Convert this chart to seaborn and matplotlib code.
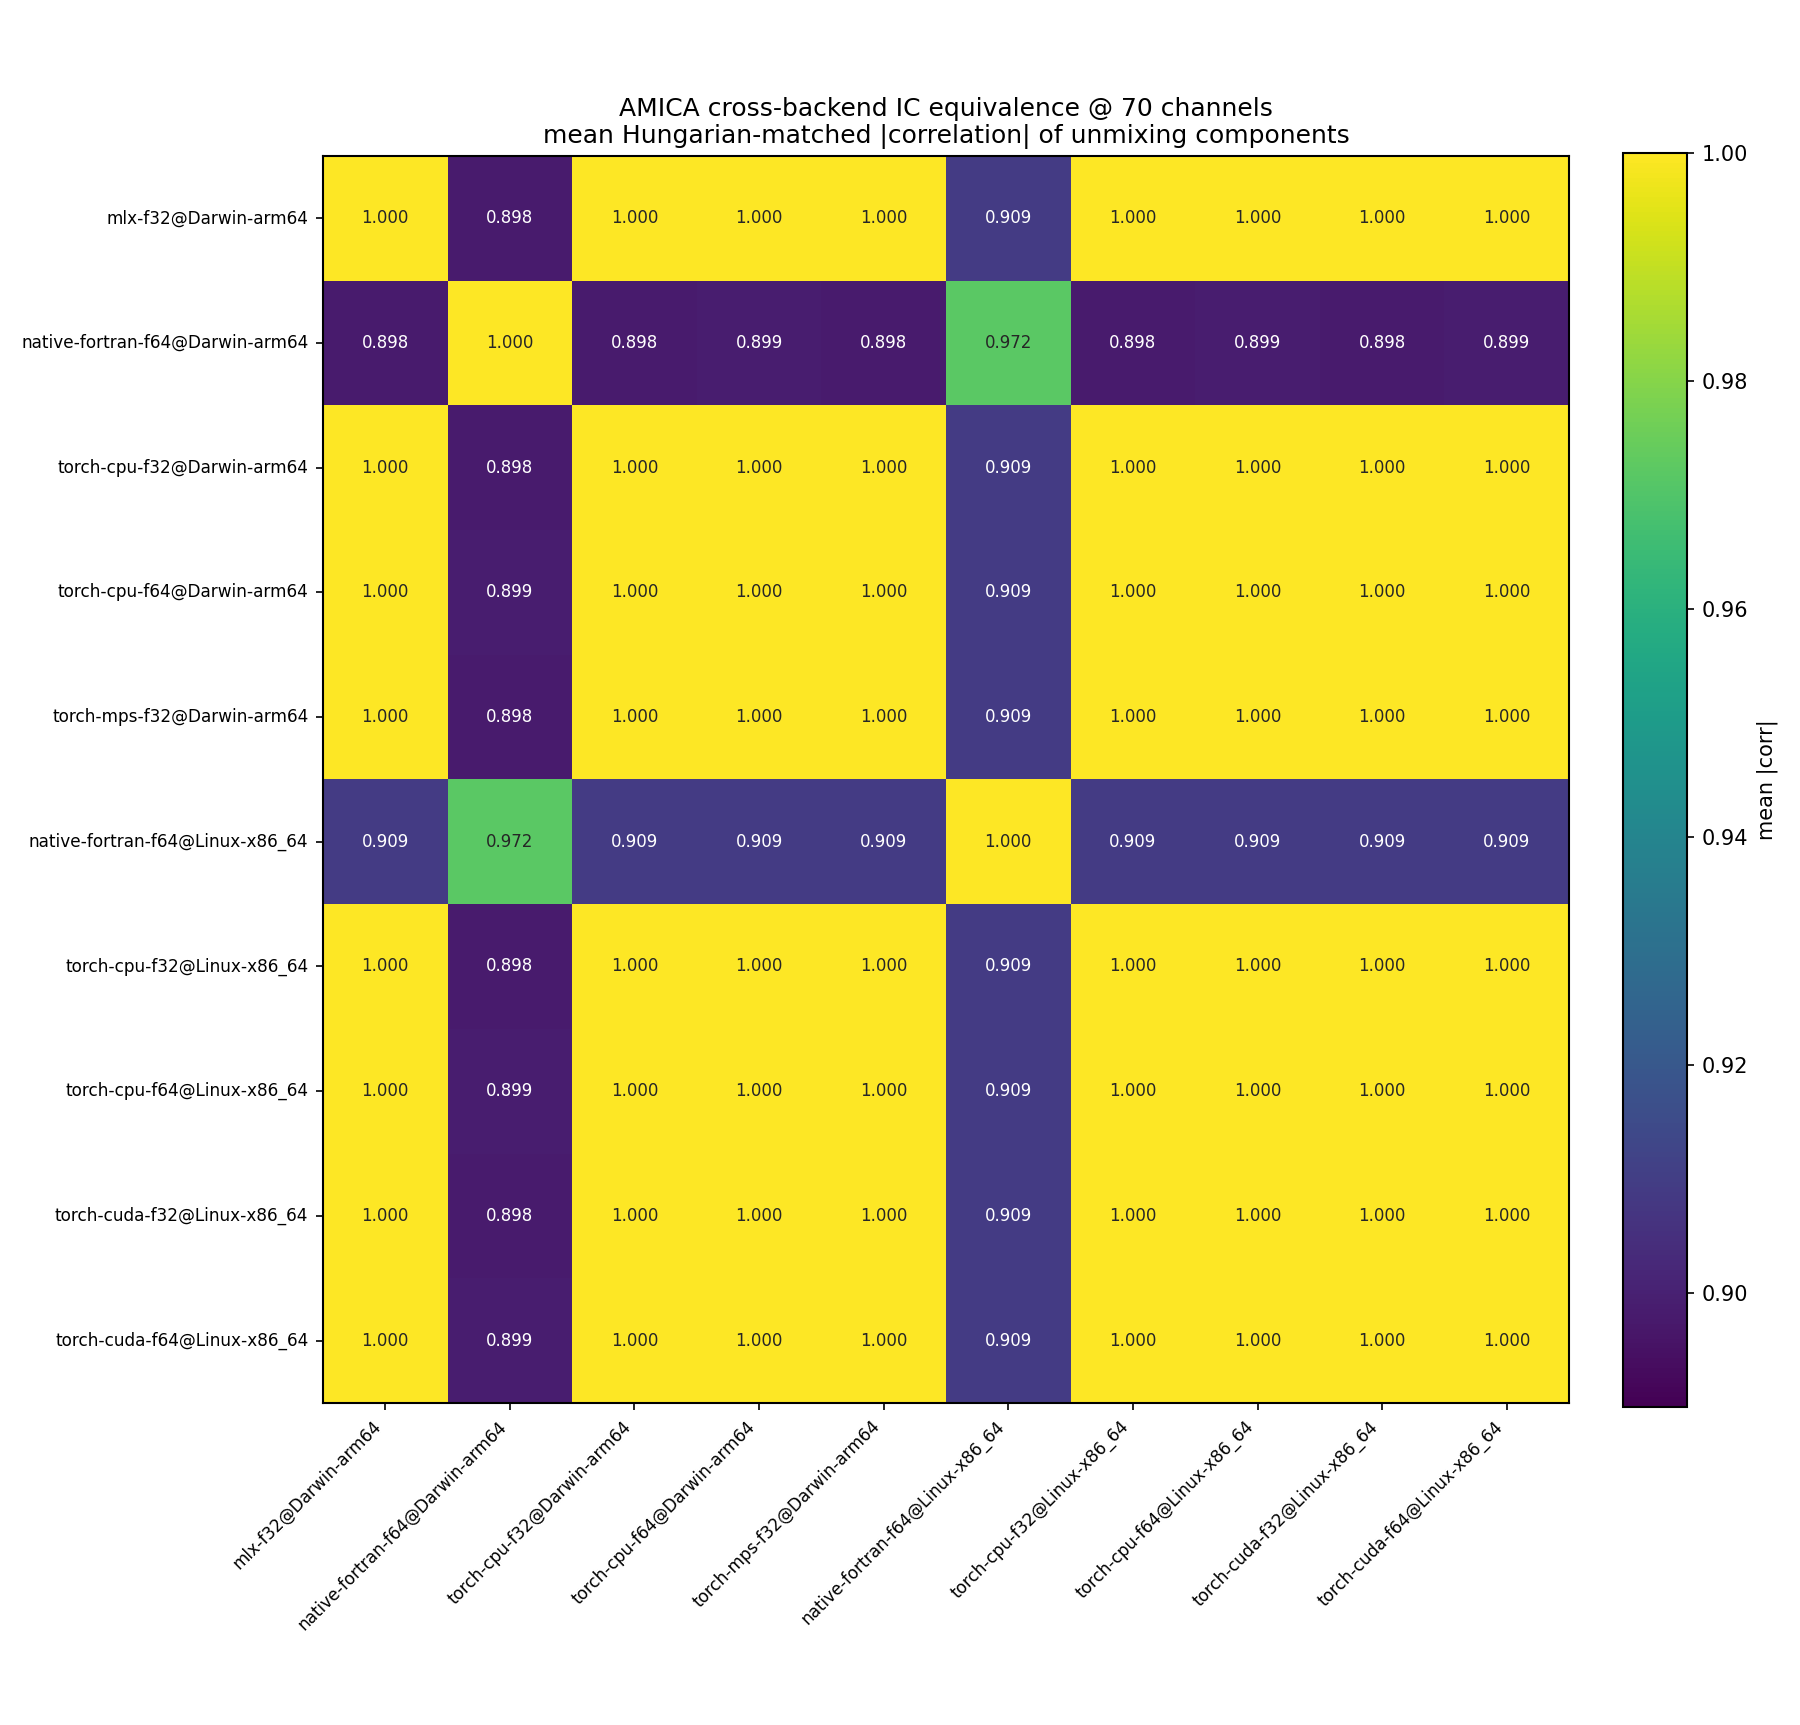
import numpy as np
import pandas as pd
import seaborn as sns
import matplotlib
matplotlib.use("Agg")
import matplotlib.pyplot as plt

backends = [
    "mlx-f32@Darwin-arm64",
    "native-fortran-f64@Darwin-arm64",
    "torch-cpu-f32@Darwin-arm64",
    "torch-cpu-f64@Darwin-arm64",
    "torch-mps-f32@Darwin-arm64",
    "native-fortran-f64@Linux-x86_64",
    "torch-cpu-f32@Linux-x86_64",
    "torch-cpu-f64@Linux-x86_64",
    "torch-cuda-f32@Linux-x86_64",
    "torch-cuda-f64@Linux-x86_64",
]

row_mlx_f32_darwin = [1.000, 0.898, 1.000, 1.000, 1.000, 0.909, 1.000, 1.000, 1.000, 1.000]
row_fortran_darwin = [0.898, 1.000, 0.898, 0.899, 0.898, 0.972, 0.898, 0.899, 0.898, 0.899]
row_cpu_f32_darwin = [1.000, 0.898, 1.000, 1.000, 1.000, 0.909, 1.000, 1.000, 1.000, 1.000]
row_cpu_f64_darwin = [1.000, 0.899, 1.000, 1.000, 1.000, 0.909, 1.000, 1.000, 1.000, 1.000]
row_mps_f32_darwin = [1.000, 0.898, 1.000, 1.000, 1.000, 0.909, 1.000, 1.000, 1.000, 1.000]
row_fortran_linux = [0.909, 0.972, 0.909, 0.909, 0.909, 1.000, 0.909, 0.909, 0.909, 0.909]
row_cpu_f32_linux = [1.000, 0.898, 1.000, 1.000, 1.000, 0.909, 1.000, 1.000, 1.000, 1.000]
row_cpu_f64_linux = [1.000, 0.899, 1.000, 1.000, 1.000, 0.909, 1.000, 1.000, 1.000, 1.000]
row_cuda_f32_linux = [1.000, 0.898, 1.000, 1.000, 1.000, 0.909, 1.000, 1.000, 1.000, 1.000]
row_cuda_f64_linux = [1.000, 0.899, 1.000, 1.000, 1.000, 0.909, 1.000, 1.000, 1.000, 1.000]

corr = pd.DataFrame(
    [row_mlx_f32_darwin, row_fortran_darwin, row_cpu_f32_darwin,
     row_cpu_f64_darwin, row_mps_f32_darwin, row_fortran_linux,
     row_cpu_f32_linux, row_cpu_f64_linux, row_cuda_f32_linux,
     row_cuda_f64_linux],
    index=backends, columns=backends)

fig = plt.figure(figsize=(12, 11.5), dpi=150)
ax = fig.add_axes([0.1794, 0.1867, 0.6923, 0.7229])
cax = fig.add_axes([0.9017, 0.1843, 0.0356, 0.7270])

sns.heatmap(corr, cmap="viridis", vmin=0.89, vmax=1.0,
    annot=True, fmt=".3f", annot_kws={"size": 8},
    cbar_ax=cax, cbar_kws={"label": "mean |corr|"}, ax=ax)

# heatmap frame + colorbar outline like plain imshow
for spine in ax.spines.values():
    spine.set_visible(True)
    spine.set_linewidth(1.0)
cbar = ax.collections[0].colorbar
cbar.outline.set_visible(True)
cbar.outline.set_linewidth(1.0)
cbar.set_ticks([0.90, 0.92, 0.94, 0.96, 0.98, 1.00])
cbar.ax.tick_params(labelsize=10)
cbar.set_label("mean |corr|", fontsize=10)

ax.tick_params(axis="both", labelsize=8.1, length=3.5, width=0.8)
ax.set_yticklabels(backends, rotation=0)
ax.set_xticklabels(backends, rotation=45, ha="right")
ax.set_xlabel("")
ax.set_ylabel("")
ax.set_title("AMICA cross-backend IC equivalence @ 70 channels\n"
             "mean Hungarian-matched |correlation| of unmixing components",
             fontsize=12)

fig.savefig("out.png", dpi=150)
